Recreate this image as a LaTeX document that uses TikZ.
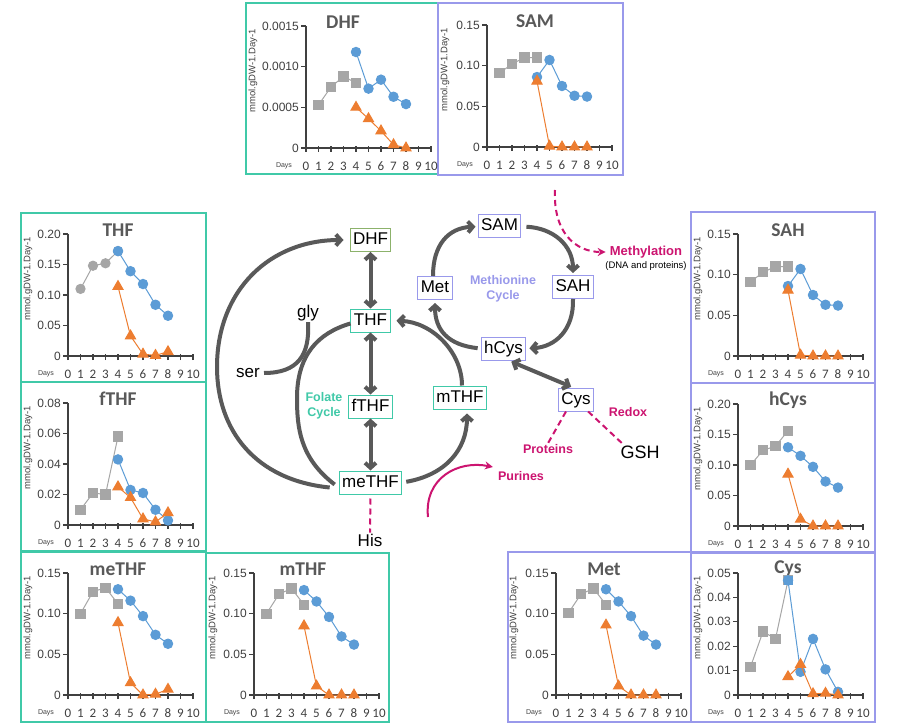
\documentclass[tikz,border=0pt]{standalone}
\usepackage{fontspec}
\setmainfont{Liberation Sans}
\newfontfamily\calib{Carlito}
\usetikzlibrary{arrows.meta,plotmarks}

\newlength{\du}
\setlength{\du}{1pt}

\definecolor{folcolor}{rgb}{0.25,0.79,0.66}
\definecolor{metcolor}{rgb}{0.60,0.60,0.92}
\definecolor{dhfcolor}{rgb}{0.55,0.70,0.42}
\definecolor{arrcolor}{rgb}{0.35,0.35,0.35}
\definecolor{magcolor}{rgb}{0.80,0.08,0.44}
\definecolor{chgray}{rgb}{0.65,0.65,0.65}
\definecolor{chblue}{rgb}{0.36,0.61,0.84}
\definecolor{chorange}{rgb}{0.93,0.49,0.19}
\definecolor{chtext}{rgb}{0.25,0.25,0.25}
\definecolor{chtitle}{rgb}{0.35,0.35,0.35}

\tikzset{
  panel/.style={line width=1.5\du},
  axisln/.style={draw=chtext, line width=1.2\du},
  ytick/.style={anchor=east, inner sep=0pt, text=chtext, font=\fontsize{12}{12}\selectfont},
  xtick/.style={inner sep=0pt, text=chtext, font=\calib\fontsize{13}{13}\selectfont},
  dayslbl/.style={inner sep=0pt, text=chtext, font=\fontsize{7}{7}\selectfont},
  ylbl/.style={rotate=90, inner sep=0pt, text=chtext, font=\fontsize{9.5}{9.5}\selectfont},
  charttitle/.style={inner sep=0pt, text=chtitle, font=\calib\bfseries\fontsize{19.5}{19.5}\selectfont},
  grayser/.style={draw=chgray, line width=1\du, mark size=4.6\du, mark options={fill=chgray, draw=chgray}},
  blueser/.style={draw=chblue, line width=1\du, mark=*, mark size=4.7\du, mark options={fill=chblue, draw=chblue}},
  orangeser/.style={draw=chorange, line width=1\du, mark=triangle*, mark size=5.8\du, mark options={fill=chorange, draw=chorange}},
  cbox/.style={fill=white, line width=1\du, inner xsep=3\du, inner ysep=0pt, minimum height=23\du,
    text height=12.5\du, text depth=3.5\du, font=\fontsize{17}{17}\selectfont},
  fbox/.style={cbox, draw=folcolor},
  mbox/.style={cbox, draw=metcolor},
  dbox/.style={cbox, draw=dhfcolor},
  lbl/.style={inner sep=1\du, font=\fontsize{17}{17}\selectfont},
  maglbl/.style={inner sep=1\du, text=magcolor, font=\bfseries\fontsize{12.5}{12.5}\selectfont},
  cyclbl/.style={align=center, inner sep=0pt, font=\bfseries\fontsize{12.5}{15}\selectfont},
  arr/.style={draw=arrcolor, line width=4\du, -{Straight Barb[length=5pt,width=11pt]}},
  bidir/.style={draw=arrcolor, line width=4\du, {Straight Barb[length=5pt,width=11pt]}-{Straight Barb[length=5pt,width=11pt]}},
  lineonly/.style={draw=arrcolor, line width=4\du},
  magdash/.style={draw=magcolor, line width=2\du, dash pattern=on 6pt off 4pt},
  magarr/.style={draw=magcolor, line width=2\du, -{Stealth[length=8pt,width=8pt]}}
}

% origin, ylabel offset, title, ymax, ticks, gray, blue, orange, gray mark
\newcommand{\chart}[9]{%
\begin{scope}[shift={(#1)}, x=12.5\du, y={122/#4*\du}]
\draw[axisln] (0,#4) -- (0,0) -- (10,0);
\foreach \yv/\ylab in {#5} {
  \draw[axisln] ([xshift=-5\du]0,\yv) -- (0,\yv);
  \node[ytick] at ([xshift=-7\du]0,\yv) {\ylab};
}
\foreach \dx in {0,...,10} {
  \draw[axisln] ([yshift=-4\du]\dx,0) -- ([yshift=2\du]\dx,0);
  \node[xtick] at ([yshift=-18\du]\dx,0) {\dx};
}
\node[dayslbl] at ([xshift=-22\du,yshift=-18\du]0,0) {Days};
\node[ylbl] at ([xshift={#2*\du},yshift=77\du]0,0) {mmol.gDW-1.Day-1};
\node[charttitle] at ([xshift={(#2+90)*\du},yshift=126\du]0,0) {#3};
\draw[grayser, mark=#9] plot coordinates {#6};
\draw[blueser] plot coordinates {#7};
\draw[orangeser] plot coordinates {#8};
\end{scope}}

\begin{document}
\begin{tikzpicture}[x=1\du, y=-1\du]
\useasboundingbox[fill=white] (0,0) rectangle (899,727);

% panels
\draw[panel, draw=folcolor] (246,3) rectangle (438,174);
\draw[panel, draw=metcolor] (438,3) rectangle (623,175);
\draw[panel, draw=folcolor] (21,213) rectangle (206,382);
\draw[panel, draw=folcolor] (21,382) rectangle (206,551);
\draw[panel, draw=folcolor] (21,552) rectangle (206,722);
\draw[panel, draw=folcolor] (206,553) rectangle (389,722);
\draw[panel, draw=metcolor] (508,552) rectangle (691,722);
\draw[panel, draw=metcolor] (691,553) rectangle (875,722);
\draw[panel, draw=metcolor] (691,212) rectangle (875,383);
\draw[panel, draw=metcolor] (691,383) rectangle (875,552);

% charts
\chart{306,148}{-53}{DHF}{15}{0/0, 5/0.0005, 10/0.0010, 15/0.0015}
  {(1,5.3) (2,7.5) (3,8.8) (4,8.0)}{(4,11.8) (5,7.3) (6,8.4) (7,6.3) (8,5.4)}{(4,5.0) (5,3.6) (6,2.1) (7,0.4) (8,0)}{square*}
\chart{487,147}{-42}{SAM}{15}{0/0, 5/0.05, 10/0.10, 15/0.15}
  {(1,9.1) (2,10.2) (3,11.0) (4,11.0)}{(4,8.6) (5,10.7) (6,7.5) (7,6.3) (8,6.2)}{(4,8.1) (5,0.1) (6,0) (7,0) (8,0)}{square*}
\chart{68,356}{-40}{THF}{20}{0/0, 5/0.05, 10/0.10, 15/0.15, 20/0.20}
  {(1,11.0) (2,14.8) (3,15.2) (4,17.2)}{(4,17.2) (5,13.9) (6,11.8) (7,8.4) (8,6.6)}{(4,11.4) (5,3.3) (6,0.3) (7,0.1) (8,0.7)}{*}
\chart{68,525}{-40}{fTHF}{8}{0/0, 2/0.02, 4/0.04, 6/0.06, 8/0.08}
  {(1,1.0) (2,2.1) (3,2.0) (4,5.8)}{(4,4.3) (5,2.3) (6,2.1) (7,1.0) (8,0.3)}{(4,2.5) (5,1.8) (6,0.4) (7,0.2) (8,0.8)}{square*}
\chart{68,695}{-40}{meTHF}{15}{0/0, 5/0.05, 10/0.10, 15/0.15}
  {(1,10.0) (2,12.7) (3,13.2) (4,11.2)}{(4,13.0) (5,11.6) (6,9.7) (7,7.4) (8,6.3)}{(4,8.9) (5,1.5) (6,0) (7,0.1) (8,0.7)}{square*}
\chart{254,695}{-41}{mTHF}{15}{0/0, 5/0.05, 10/0.10, 15/0.15}
  {(1,10.0) (2,12.4) (3,13.1) (4,11.1)}{(4,12.9) (5,11.5) (6,9.6) (7,7.2) (8,6.2)}{(4,8.5) (5,1.1) (6,0) (7,0) (8,0)}{square*}
\chart{556,695}{-42}{Met}{15}{0/0, 5/0.05, 10/0.10, 15/0.15}
  {(1,10.1) (2,12.4) (3,13.1) (4,11.1)}{(4,13.0) (5,11.5) (6,9.7) (7,7.3) (8,6.2)}{(4,8.6) (5,1.1) (6,0) (7,0) (8,0)}{square*}
\chart{738,695}{-40}{Cys}{5}{0/0, 1/0.01, 2/0.02, 3/0.03, 4/0.04, 5/0.05}
  {(1,1.15) (2,2.6) (3,2.3) (4,4.7)}{(4,4.7) (5,0.95) (6,2.3) (7,1.05) (8,0.13)}{(4,0.75) (5,1.25) (6,0.05) (7,0.07) (8,0)}{square*}
\fill[chblue] (783.5,575.8) rectangle (792.5,584.8);
\chart{738,356}{-40}{SAH}{15}{0/0, 5/0.05, 10/0.10, 15/0.15}
  {(1,9.1) (2,10.3) (3,11.0) (4,11.0)}{(4,8.6) (5,10.7) (6,7.5) (7,6.3) (8,6.2)}{(4,8.1) (5,0.1) (6,0) (7,0) (8,0)}{square*}
\chart{738,526}{-40}{hCys}{20}{0/0, 5/0.05, 10/0.10, 15/0.15, 20/0.20}
  {(1,10.0) (2,12.4) (3,13.1) (4,15.6)}{(4,12.9) (5,11.5) (6,9.7) (7,7.3) (8,6.3)}{(4,8.5) (5,1.1) (6,0) (7,0) (8,0)}{square*}

% pathway
\node[dbox] (dhf) at (370.5,240) {DHF};
\node[fbox] (thf) at (370.5,320.5) {THF};
\node[fbox] (fthf) at (370.5,406.5) {fTHF};
\node[fbox] (methf) at (370.5,482.5) {meTHF};
\node[fbox] (mthf) at (460,397.5) {mTHF};
\node[mbox] (met) at (435,288) {Met};
\node[mbox] (sam) at (499.5,226.5) {SAM};
\node[mbox] (sah) at (573,287) {SAH};
\node[mbox] (hcys) at (503.5,348.5) {hCys};
\node[mbox] (cys) at (576,399.5) {Cys};

\node[lbl] (gly) at (308,313) {gly};
\node[lbl] (ser) at (248,373) {ser};
\node[lbl] (his) at (370,540) {His};
\node[lbl, font=\fontsize{18}{18}\selectfont] (gsh) at (640,452) {GSH};
\node[cyclbl, text=folcolor] (folcyc) at (324,406) {Folate\\Cycle};
\node[cyclbl, text=metcolor] (metcyc) at (503,289) {Methionine\\Cycle};
\node[maglbl] (purines) at (521,476) {Purines};
\node[maglbl] (proteins) at (548,449) {Proteins};
\node[maglbl] (redox) at (628,412) {Redox};
\node[maglbl, font=\bfseries\fontsize{13}{13}\selectfont] (methylation) at (646,252) {Methylation};
\node[inner sep=0pt, font=\fontsize{9.5}{9.5}\selectfont] (dnaprot) at (646,266) {(DNA and proteins)};

\draw[bidir] (dhf) -- (thf);
\draw[bidir] (thf) -- (fthf);
\draw[bidir] (fthf) -- (methf);
\draw[arr, shorten >=6\du] ([xshift=-9\du,yshift=-5\du]methf.west) .. controls (255,480) and (217,430) .. (217,367)
  .. controls (217,290) and (270,240) .. (dhf.west);
\draw[lineonly] ([xshift=-4\du,yshift=-2\du]methf.west) .. controls (300,458) and (297,428) .. (297,398)
  .. controls (297,355) and (318,333) .. ([yshift=-3\du]thf.west);
\draw[lineonly, shorten <=3\du] (ser.east) .. controls (298,373) and (310,355) .. (gly.south);
\draw[arr, shorten <=4\du, shorten >=4\du] (methf.east) .. controls (445,475) and (467,450) .. ([xshift=7\du]mthf.south);
\draw[arr, shorten >=6\du] ([xshift=2\du]mthf.north) .. controls (462,352) and (432,322) .. (thf.east);
\draw[arr, shorten <=3\du, shorten >=3\du] (hcys.west) .. controls (448,345) and (435,330) .. (met.south);
\draw[arr, shorten >=2\du] ([xshift=-2\du]met.north) .. controls (433,245) and (448,228) .. (sam.west);
\draw[arr, shorten <=5\du, shorten >=2\du] (sam.east) .. controls (553,228) and (573,245) .. (sah.north);
\draw[arr, shorten >=3\du] (sah.south) .. controls (574,330) and (555,347) .. (hcys.east);
\draw[bidir, shorten <=3\du, shorten >=2\du] ([xshift=5\du]hcys.south) -- ([xshift=-3\du]cys.north);

% magenta
\coordinate (methtop) at (555,190);
\coordinate (purstart) at (428,517);
\draw[magdash, -{Stealth[length=8pt,width=8pt]}] (methtop) .. controls (553,232) and (575,252) .. ([xshift=-3\du]methylation.west);
\draw[magdash] ([xshift=-10\du]cys.south) -- (proteins.north);
\draw[magdash] ([xshift=-6\du]cys.south east) -- ([xshift=4\du]gsh.north west);
\draw[magdash, shorten <=4\du] (methf.south) -- (his.north);
\draw[magarr] (purstart) .. controls (424,478) and (458,460) .. ([xshift=-4\du,yshift=9\du]purines.west);
\end{tikzpicture}
\end{document}
